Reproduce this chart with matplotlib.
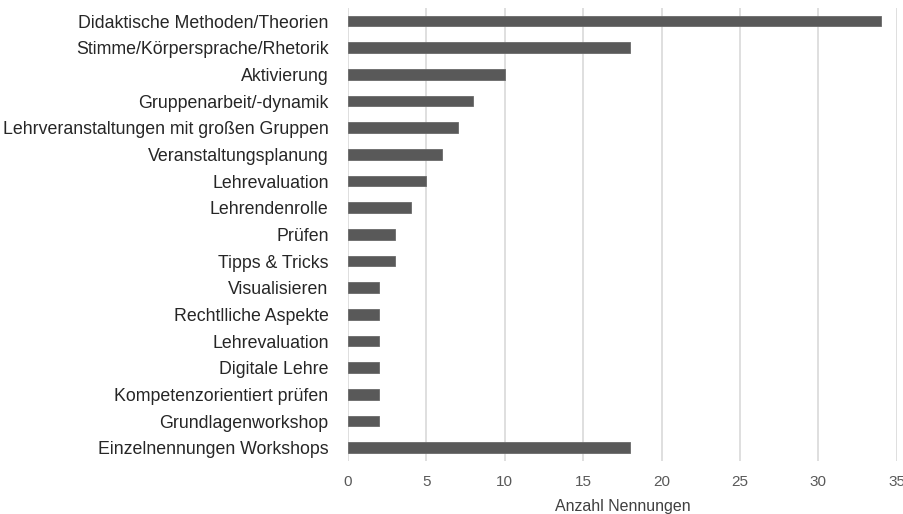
import matplotlib
matplotlib.use("Agg")
import matplotlib.pyplot as plt

categories = [
    "Didaktische Methoden/Theorien",
    "Stimme/Körpersprache/Rhetorik",
    "Aktivierung",
    "Gruppenarbeit/-dynamik",
    "Lehrveranstaltungen mit großen Gruppen",
    "Veranstaltungsplanung",
    "Lehrevaluation",
    "Lehrendenrolle",
    "Prüfen",
    "Tipps & Tricks",
    "Visualisieren",
    "Rechtlliche Aspekte",
    "Lehrevaluation",
    "Digitale Lehre",
    "Kompetenzorientiert prüfen",
    "Grundlagenworkshop",
    "Einzelnennungen Workshops",
]
values = [34, 18, 10, 8, 7, 6, 5, 4, 3, 3, 2, 2, 2, 2, 2, 2, 18]
xticks = [0, 5, 10, 15, 20, 25, 30, 35]

plt.rcParams["font.family"] = ["Liberation Sans", "DejaVu Sans"]

fig = plt.figure(figsize=(9.04, 5.14), dpi=100)
ax = fig.add_axes([0.385, 0.103, 0.607, 0.882])

pos = list(range(len(categories)))
ax.barh(pos, values, height=0.4, color="#595959", edgecolor="#6a6a6a", linewidth=0.6, zorder=3)

ax.set_ylim(len(categories) - 0.5, -0.5)
ax.set_xlim(0, 35)
ax.set_xticks(xticks)
ax.set_yticks(pos)
ax.set_yticklabels(categories, fontsize=12.8, color="#262626")
ax.tick_params(axis="x", labelsize=11, labelcolor="#595959", length=0, pad=10)
ax.tick_params(axis="y", length=0, pad=14)
ax.grid(axis="x", color="#d9d9d9", linewidth=1.2, zorder=0)
for s in ax.spines.values():
    s.set_visible(False)
ax.set_xlabel("Anzahl Nennungen", fontsize=11.5, color="#404040", labelpad=7)

fig.savefig("out.png", dpi=100)
